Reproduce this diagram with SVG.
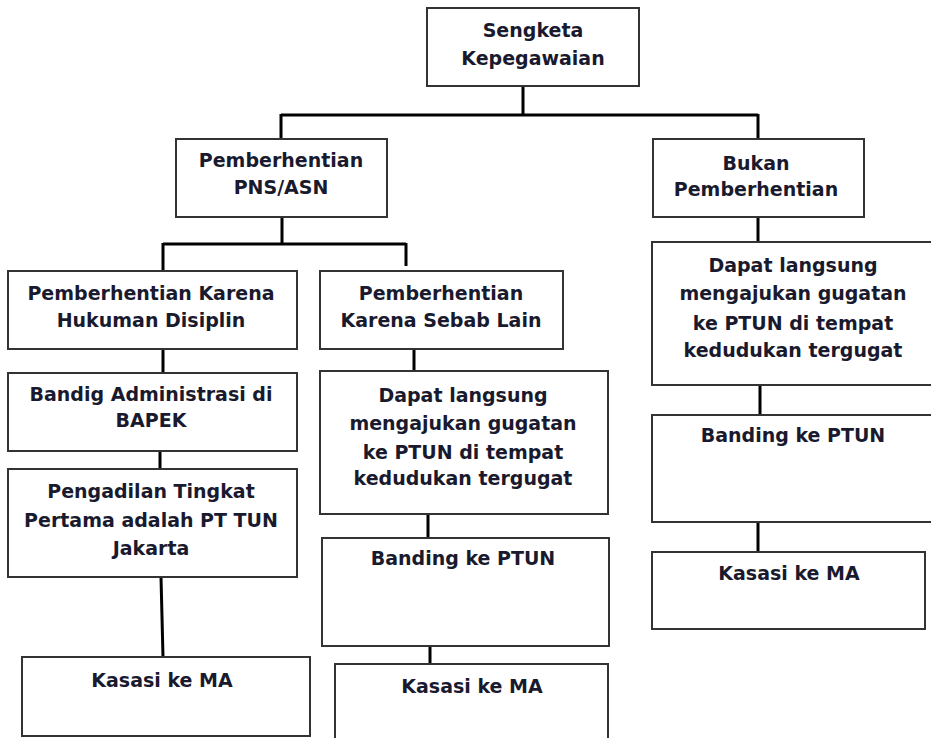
<svg xmlns="http://www.w3.org/2000/svg" width="931" height="738" viewBox="0 0 931 738">
<style>
.box{fill:#fff;stroke:#333;stroke-width:2}
.t{font-family:"DejaVu Sans","Liberation Sans",sans-serif;font-weight:bold;font-size:19px;fill:#1a1a2e;text-anchor:middle}
.c{stroke:#000;stroke-width:3;fill:none}
</style>
<rect width="931" height="738" fill="#fff"/>
<g id="connectors">
<path class="c" d="M523 86V115M281 115H758M281 114V139M758 114V139"/>
<path class="c" d="M282 217V244M163 244H406M163 243V271M406 243V266"/>
<path class="c" d="M758 217V242"/>
<path class="c" d="M163 349V373M160 451V469M161 577L163 657"/>
<path class="c" d="M414 349V371M428 514V538M430 646V664"/>
<path class="c" d="M760 385V415M758 522V552"/>
</g>
<g id="n1"><rect class="box" x="427" y="8" width="212" height="78"/><text class="t" x="533" y="37">Sengketa</text><text class="t" x="533" y="65">Kepegawaian</text></g>
<g id="n2"><rect class="box" x="176" y="139" width="211" height="78"/><text class="t" x="281" y="167">Pemberhentian</text><text class="t" x="281" y="194">PNS/ASN</text></g>
<g id="n3"><rect class="box" x="653" y="139" width="211" height="78"/><text class="t" x="756" y="170">Bukan</text><text class="t" x="756" y="196">Pemberhentian</text></g>
<g id="n4"><rect class="box" x="8" y="271" width="289" height="78"/><text class="t" x="151" y="300">Pemberhentian Karena</text><text class="t" x="151" y="327">Hukuman Disiplin</text></g>
<g id="n5"><rect class="box" x="8" y="373" width="289" height="78"/><text class="t" x="151" y="401">Bandig Administrasi di</text><text class="t" x="151" y="427">BAPEK</text></g>
<g id="n6"><rect class="box" x="8" y="469" width="289" height="108"/><text class="t" x="151" y="498">Pengadilan Tingkat</text><text class="t" x="151" y="527">Pertama adalah PT TUN</text><text class="t" x="151" y="555">Jakarta</text></g>
<g id="n7"><rect class="box" x="22" y="657" width="288" height="79"/><text class="t" x="162" y="687">Kasasi ke MA</text></g>
<g id="n8"><rect class="box" x="320" y="271" width="243" height="78"/><text class="t" x="441" y="300">Pemberhentian</text><text class="t" x="441" y="327">Karena Sebab Lain</text></g>
<g id="n9"><rect class="box" x="320" y="371" width="288" height="143"/><text class="t" x="463" y="402">Dapat langsung</text><text class="t" x="463" y="430">mengajukan gugatan</text><text class="t" x="463" y="459">ke PTUN di tempat</text><text class="t" x="463" y="485">kedudukan tergugat</text></g>
<g id="n10"><rect class="box" x="322" y="538" width="287" height="108"/><text class="t" x="463" y="565">Banding ke PTUN</text></g>
<g id="n11"><rect class="box" x="335" y="664" width="273" height="82"/><text class="t" x="472" y="693">Kasasi ke MA</text></g>
<g id="n12"><rect class="box" x="652" y="242" width="282" height="143"/><text class="t" x="793" y="272">Dapat langsung</text><text class="t" x="793" y="300">mengajukan gugatan</text><text class="t" x="793" y="330">ke PTUN di tempat</text><text class="t" x="793" y="357">kedudukan tergugat</text></g>
<g id="n13"><rect class="box" x="652" y="415" width="282" height="107"/><text class="t" x="793" y="442">Banding ke PTUN</text></g>
<g id="n14"><rect class="box" x="652" y="552" width="273" height="77"/><text class="t" x="789" y="580">Kasasi ke MA</text></g>
</svg>
